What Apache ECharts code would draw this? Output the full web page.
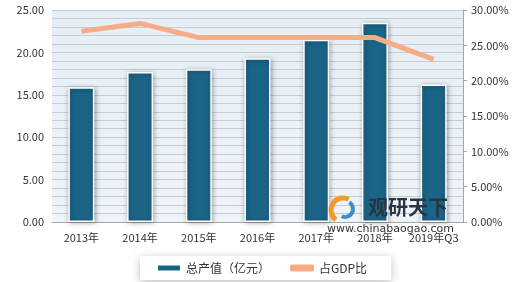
<!DOCTYPE html>
<html><head><meta charset="utf-8">
<script src="https://cdn.jsdelivr.net/npm/echarts@6/dist/echarts.min.js"></script>
<style>html,body{margin:0;padding:0;background:#fff}#c{width:520px;height:282px}</style>
</head><body><div id="c"></div>
<script>
const categories = ['2013年','2014年','2015年','2016年','2017年','2018年','2019年Q3'];
const outputValues = [15.9, 17.7, 18.0, 19.3, 21.5, 23.5, 16.2];
const gdpShare = [27.0, 28.1, 26.1, 26.1, 26.1, 26.1, 23.0];
const leftTicks = ['0.00','5.00','10.00','15.00','20.00','25.00'];
const seriesNames = ['总产值（亿元）','占GDP比'];

const font = '"Noto Sans CJK SC", "DejaVu Sans", sans-serif';
const chart = echarts.init(document.getElementById('c'));
chart.setOption({
  animation: false,
  textStyle: {fontFamily: font},
  grid: {left: 52, right: 57, top: 10, bottom: 60, show: true,
    backgroundColor: new echarts.graphic.LinearGradient(0,0,0,1,[{offset:0,color:'#e6eef6'},{offset:1,color:'#eef4f9'}]),
    borderWidth: 0},
  legend: {
    bottom: 2, left: 140, itemGap: 20, itemWidth: 24, itemHeight: 7,
    padding: [6, 24, 6, 16],
    backgroundColor: '#fff', shadowColor: 'rgba(0,0,0,0.25)', shadowBlur: 8, shadowOffsetY: 2,
    textStyle: {fontSize: 12, color: '#333', fontFamily: font},
    data: [{name: seriesNames[0], icon: 'rect'}, {name: seriesNames[1], icon: 'roundRect'}]
  },
  xAxis: {
    type: 'category', data: categories,
    axisLine: {lineStyle: {color: '#a6a6a6'}},
    axisTick: {show: false},
    axisLabel: {color: '#333', fontSize: 11, margin: 10, interval: 0, fontFamily: font}
  },
  yAxis: [{
    type: 'value', min: 0, max: 25, interval: 5,
    axisLabel: {color: '#333', fontSize: 11, formatter: v => leftTicks[Math.round(v/5)], fontFamily: font},
    axisLine: {show: false}, axisTick: {show: false},
    splitLine: {lineStyle: {color: '#c8ccd0', width: 1}},
    minorTick: {show: false, splitNumber: 5},
    minorSplitLine: {show: true, lineStyle: {color: '#c8ccd0', width: 1}}
  }, {
    type: 'value', min: 0, max: 30, interval: 5, position: 'right',
    axisLabel: {color: '#333', fontSize: 11, formatter: v => v.toFixed(2) + '%', margin: 8, fontFamily: font},
    axisLine: {show: true, lineStyle: {color: '#a6a6a6'}},
    axisTick: {show: true, length: 4, lineStyle: {color: '#a6a6a6'}},
    splitLine: {show: false}
  }],
  graphic: [
    {type: 'arc', z: 100, shape: {cx: 343, cy: 210, r: 12, startAngle: 2.2, endAngle: 5.2}, style: {stroke: '#f39a2a', lineWidth: 5, fill: null}},
    {type: 'arc', z: 100, shape: {cx: 345, cy: 209, r: 8, startAngle: -1.0, endAngle: 2.0}, style: {stroke: '#3b8fc4', lineWidth: 4, fill: null}},
    {type: 'text', z: 100, left: 368, top: 197, style: {text: '观研天下', font: 'bold 20px "Noto Sans CJK SC"', fill: '#2a3440'}},
    {type: 'text', z: 100, left: 327, top: 224, style: {text: 'www.chinabaogao.com', font: '11px "DejaVu Sans"', fill: '#333'}}
  ],
  series: [{
    name: seriesNames[0], type: 'bar', data: outputValues, barWidth: 26,
    itemStyle: {color: '#1a6486', borderColor: '#fff', borderWidth: 1.5,
      shadowColor: 'rgba(0,0,0,0.35)', shadowBlur: 5, shadowOffsetX: 1, shadowOffsetY: 1}
  }, {
    name: seriesNames[1], type: 'line', yAxisIndex: 1, data: gdpShare,
    symbol: 'none', lineStyle: {color: '#f6ad86', width: 5}, itemStyle: {color: '#f6ad86'}
  }]
});
</script></body></html>
